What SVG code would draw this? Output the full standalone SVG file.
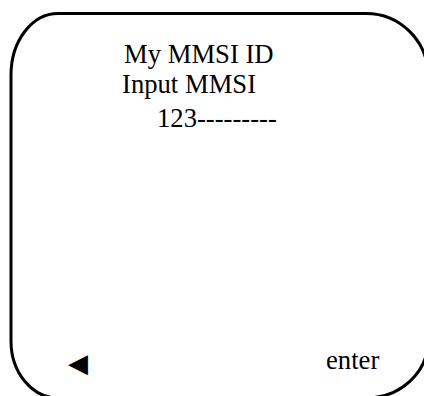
<svg xmlns="http://www.w3.org/2000/svg" width="424" height="396" viewBox="0 0 424 396">
<style>
.t{font-family:"Liberation Serif","Times New Roman",serif;font-size:26.67px;fill:#000}
.frame{fill:none;stroke:#000;stroke-width:3}
</style>
<rect width="424" height="396" fill="#fff"/>
<g id="screen">
<path class="frame" d="M58 13.5 H366 A62 62 0 0 1 428 75.5 V341 A62 57 0 0 1 366 398 H58 A47 57 0 0 1 11 341 V75 A47 61.5 0 0 1 58 13.5 Z"/>
</g>
<g id="title"><text class="t" x="124" y="63">My MMSI ID</text></g>
<g id="prompt"><text class="t" x="122" y="93">Input MMSI</text></g>
<g id="value"><text class="t" x="157" y="127">123---------</text></g>
<g id="back"><text x="68" y="372" style="font-family:'DejaVu Sans',sans-serif;font-size:26px">◀</text></g>
<g id="enter"><text class="t" x="326" y="369">enter</text></g>
<g id="connectors"/>
</svg>
